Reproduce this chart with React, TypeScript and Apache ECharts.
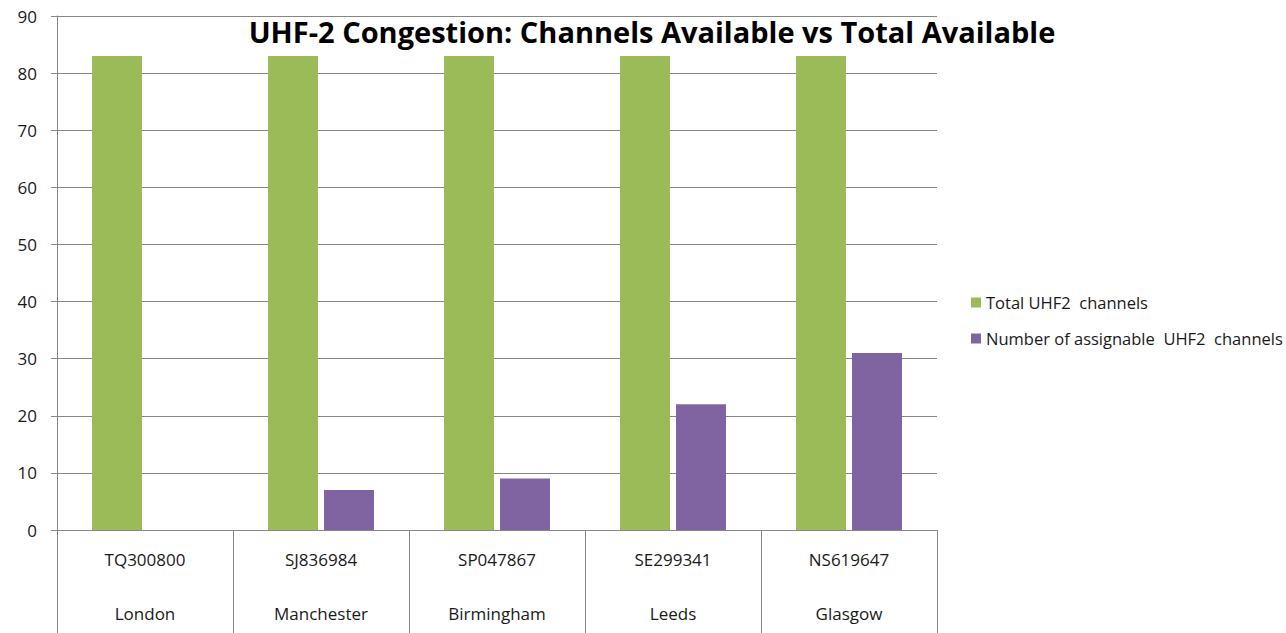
import React, { useEffect, useRef } from "react";
import * as echarts from "echarts";

const codes = ["TQ300800", "SJ836984", "SP047867", "SE299341", "NS619647"];
const cities = ["London", "Manchester", "Birmingham", "Leeds", "Glasgow"];
const totalChannels = [83, 83, 83, 83, 83];
const assignableChannels = [0, 7, 9, 22, 31];
const seriesNames = ["Total UHF2  channels", "Number of assignable  UHF2  channels"];

export default function App() {
  const ref = useRef<HTMLDivElement>(null);
  useEffect(() => {
    if (!ref.current) return;
    const chart = echarts.init(ref.current, null, { renderer: "svg" });
    const font = "Open Sans, Noto Sans, sans-serif";
    chart.setOption({
      animation: false,
      backgroundColor: "#ffffff",
      title: {
        text: "UHF-2 Congestion: Channels Available vs Total Available",
        left: 647,
        textAlign: "center",
        top: 12,
        textStyle: { fontSize: 29, fontWeight: "bold", color: "#000", fontFamily: font },
      },
      legend: {
        orient: "vertical",
        left: 966,
        top: 289,
        itemWidth: 10,
        itemHeight: 10,
        itemGap: 19,
        icon: "rect",
        textStyle: { fontSize: 16.5, color: "#1a1a1a", fontFamily: font },
        data: seriesNames,
      },
      grid: { left: 57, right: 349, top: 16, bottom: 103 },
      xAxis: {
        type: "category",
        data: codes.map((c, i) => c + "\n\n" + cities[i]),
        axisLine: { lineStyle: { color: "#868686", width: 1 } },
        axisTick: { show: true, length: 103, interval: 0, lineStyle: { color: "#868686" } },
        axisLabel: {
          interval: 0,
          margin: 16,
          fontSize: 17,
          lineHeight: 27,
          color: "#1a1a1a",
          fontFamily: font,
        },
      },
      yAxis: {
        type: "value",
        min: 0,
        max: 90,
        interval: 10,
        axisLine: { show: true, lineStyle: { color: "#868686" } },
        axisTick: { show: true, length: 6, lineStyle: { color: "#868686" } },
        splitLine: { lineStyle: { color: "#868686", width: 1 } },
        axisLabel: { fontSize: 17, color: "#1a1a1a", margin: 20, fontFamily: font },
      },
      series: [
        {
          name: seriesNames[0],
          type: "bar",
          data: totalChannels,
          barWidth: 50,
          barGap: "12%",
          itemStyle: { color: "#9BBB59" },
        },
        {
          name: seriesNames[1],
          type: "bar",
          data: assignableChannels,
          barWidth: 50,
          itemStyle: { color: "#8064A2" },
        },
      ],
    });
    return () => chart.dispose();
  }, []);
  return (
    <div
      ref={ref}
      style={{ position: "fixed", left: 0, top: 0, width: 1286, height: 633 }}
    />
  );
}
